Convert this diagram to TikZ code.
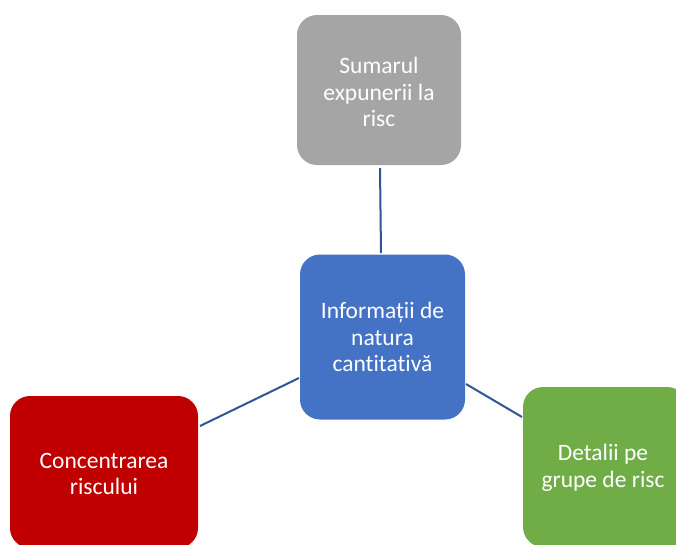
\documentclass[tikz,border=0pt]{standalone}
\usepackage{fontspec}
\setmainfont[Ligatures={NoCommon}]{Carlito}
\definecolor{boxgray}{HTML}{A5A5A5}
\definecolor{boxblue}{HTML}{4472C4}
\definecolor{boxred}{HTML}{C00000}
\definecolor{boxgreen}{HTML}{70AD47}
\definecolor{linkblue}{HTML}{2F5597}
\tikzset{
  cardfont/.style={text=white, align=center, font=\fontsize{23.5}{26.5}\selectfont},
  card/.style={rounded corners=20pt, inner sep=0pt},
  link/.style={draw=linkblue, line width=2pt}
}
\begin{document}
\begin{tikzpicture}[x=1pt,y=-1pt]
\useasboundingbox (0,0) rectangle (676,544);
\clip (0,0) rectangle (676,544);
% boxes
\node[card, fill=boxgray, minimum width=164pt, minimum height=150pt] (sum) at (379,90) {};
\node[cardfont] (sumlabel) at (379,92) {Sumarul\\expunerii la\\risc};
\node[card, fill=boxblue, minimum width=165pt, minimum height=165pt] (info) at (382.5,337) {};
\node[cardfont] (infolabel) at (382.5,337) {Informații de\\natura\\cantitativă};
\node[card, fill=boxred, minimum width=188pt, minimum height=152pt] (conc) at (104,472) {};
\node[cardfont] (conclabel) at (104,474) {Concentrarea\\riscului};
\node[card, fill=boxgreen, minimum width=164pt, minimum height=160pt] (det) at (605,467) {};
\node[cardfont] (detlabel) at (603,468) {Detalii pe\\grupe de risc};
% connectors
\coordinate (sumlow) at (380,168);
\coordinate (infotop) at (381,253);
\coordinate (infol) at (299,378);
\coordinate (concr) at (200,426);
\coordinate (infor) at (466,384);
\coordinate (detl) at (522,417);
\draw[link] (sumlow) -- (infotop);
\draw[link] (infol) -- (concr);
\draw[link] (infor) -- (detl);
\end{tikzpicture}
\end{document}
